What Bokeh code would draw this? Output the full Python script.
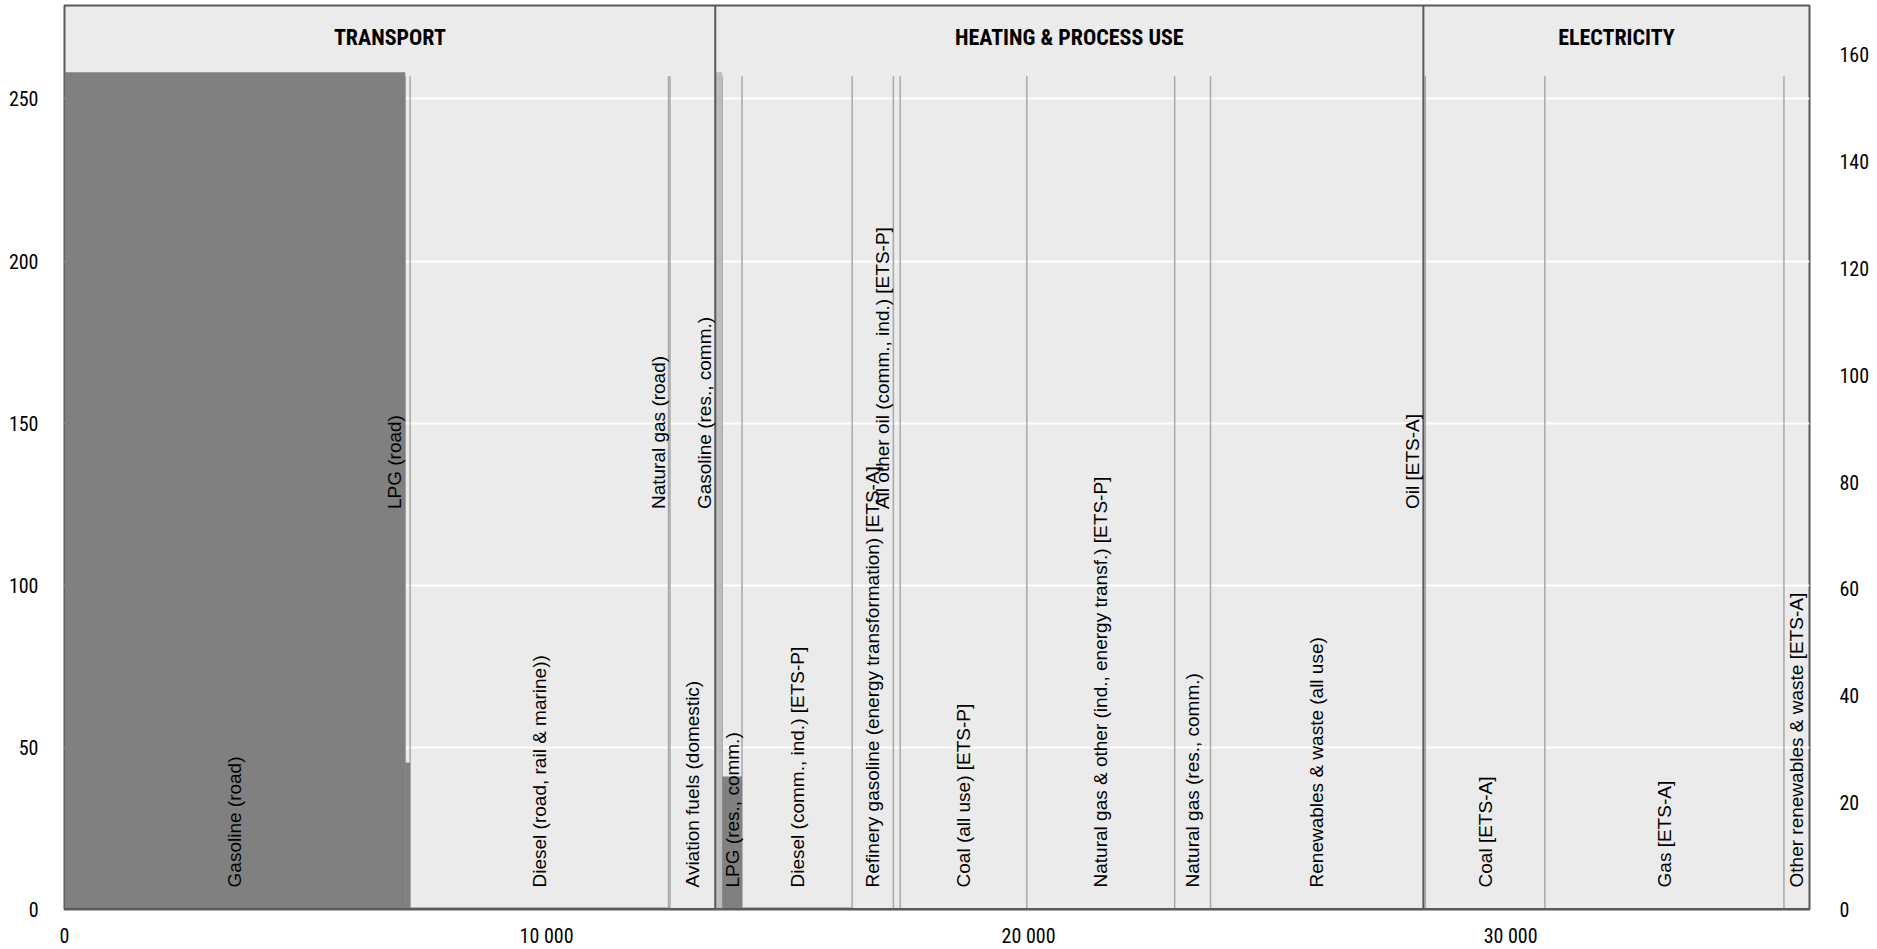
import math

from bokeh.plotting import figure
from bokeh.models import (ColumnDataSource, Range1d, LinearAxis, FixedTicker,
                          Span)
from bokeh.core.properties import value
from bokeh.embed import file_html
from bokeh.resources import INLINE

# ---- data ---------------------------------------------------------------
sectors = ["TRANSPORT", "HEATING & PROCESS USE", "ELECTRICITY"]

categories = [
    "Gasoline (road)",
    "LPG (road)",
    "Diesel (road, rail & marine))",
    "Natural gas (road)",
    "Aviation fuels (domestic)",
    "Gasoline (res., comm.)",
    "LPG (res., comm.)",
    "Diesel (comm., ind.) [ETS-P]",
    "Refinery gasoline  (energy transformation) [ETS-A]",
    "All other oil (comm., ind.) [ETS-P]",
    "Coal (all use) [ETS-P]",
    "Natural gas & other (ind., energy transf.) [ETS-P]",
    "Natural gas (res., comm.)",
    "Renewables & waste (all use)",
    "Oil [ETS-A]",
    "Coal [ETS-A]",
    "Gas [ETS-A]",
    "Other renewables & waste [ETS-A]",
]
category_sector = [0, 0, 0, 0, 0,
                   1, 1, 1, 1, 1, 1, 1, 1, 1,
                   2, 2, 2, 2]
# energy use (bar width)
energy_use = [7068, 102, 5361, 29, 940,
              145, 410, 2285, 855, 141, 2627, 3068, 743, 4416,
              40, 2480, 4960, 530]
# effective tax rate (bar height, left scale)
tax_rate = [258.2, 45.3, 0.6, 0.0, 0.0,
            258.2, 41.0, 0.6, 0.1, 0.0, 0.1, 0.1, 0.1, 0.0,
            0.0, 0.1, 0.1, 0.0]

left_ticks = [0, 50, 100, 150, 200, 250]
right_ticks = [0, 20, 40, 60, 80, 100, 120, 140, 160]
x_ticks = [0, 10000, 20000, 30000]
x_tick_labels = ["0", "10 000", "20 000", "30 000"]

# ---- styling --------------------------------------------------------------
BG = "#EBEBEB"
DARK_BAR = "#808080"
LIGHT_BAR = "#BDBDBD"
SEP = "#A8A8A8"
BORDER = "#595959"
LIGHT_BARS = {"Gasoline (res., comm.)"}
NARROW = 200          # bars narrower than this get their label raised
Y_TOP = 278.8
RIGHT_SCALE = 0.607   # right-hand scale relative to the left one
SEP_TOP = 257.0
LOW_LABEL_Y = 6.8
HIGH_LABEL_Y = 123.5
TITLE_Y = 269.0
AXIS_FONT = "Roboto Condensed, Liberation Sans"
LABEL_FONT = "Liberation Sans"

# ---- derived geometry ----------------------------------------------------
lefts, rights = [], []
pos = 0
for w in energy_use:
    lefts.append(pos)
    pos += w
    rights.append(pos)
x_end = pos

sector_start = {}
sector_end = {}
for s, l, r in zip(category_sector, lefts, rights):
    sector_start.setdefault(s, l)
    sector_end[s] = r

colors = [LIGHT_BAR if c in LIGHT_BARS else DARK_BAR for c in categories]

bars = ColumnDataSource(dict(left=lefts, right=rights, top=tax_rate,
                             bottom=[0] * len(categories), color=colors))

# light separators at every bar edge that is not a sector boundary
sep_x = [l for l, s in zip(lefts, category_sector)
         if l != sector_start[s]]
sector_borders = [sector_start[s] for s in range(1, len(sectors))]

low_lab = dict(x=[], y=[], text=[])
high_lab = dict(x=[], y=[], text=[])
for c, l, r in zip(categories, lefts, rights):
    if r - l < NARROW:
        high_lab["x"].append(l)
        high_lab["y"].append(HIGH_LABEL_Y)
        high_lab["text"].append(c)
    else:
        low_lab["x"].append((l + r) / 2)
        low_lab["y"].append(LOW_LABEL_Y)
        low_lab["text"].append(c)

titles = dict(x=[(sector_start[i] + sector_end[i]) / 2 for i in range(len(sectors))],
              y=[TITLE_Y] * len(sectors), text=sectors)

# ---- figure ------------------------------------------------------------------
p = figure(x_range=Range1d(0, x_end), y_range=Range1d(0, Y_TOP),
           frame_width=1745, frame_height=904,
           min_border_left=64, min_border_right=68,
           min_border_top=5, min_border_bottom=40,
           output_backend="svg", toolbar_location=None,
           background_fill_color=BG, border_fill_color="white",
           outline_line_color=BORDER, outline_line_width=2)

p.extra_y_ranges = {"right": Range1d(0, Y_TOP * RIGHT_SCALE)}

for ax in (p.xaxis[0], p.yaxis[0]):
    ax.axis_line_color = None
    ax.major_tick_line_color = None
    ax.minor_tick_line_color = None
    ax.major_label_text_font = AXIS_FONT
    ax.major_label_text_font_size = "20px"
    ax.major_label_text_color = "black"

p.xaxis.ticker = FixedTicker(ticks=x_ticks)
p.xaxis.major_label_overrides = dict(zip(x_ticks, x_tick_labels))
p.xaxis.major_label_standoff = 8
p.yaxis.ticker = FixedTicker(ticks=left_ticks)
p.yaxis.major_label_standoff = 20

rax = LinearAxis(y_range_name="right", ticker=FixedTicker(ticks=right_ticks))
rax.axis_line_color = None
rax.major_tick_line_color = None
rax.minor_tick_line_color = None
rax.major_label_text_font = AXIS_FONT
rax.major_label_text_font_size = "20px"
rax.major_label_text_color = "black"
rax.major_label_standoff = 24
p.add_layout(rax, "right")

p.xgrid.grid_line_color = None
p.ygrid.ticker = FixedTicker(ticks=left_ticks[1:])
p.ygrid.grid_line_color = "white"
p.ygrid.grid_line_width = 2

# separators between categories
p.segment(x0=sep_x, y0=[0] * len(sep_x), x1=sep_x, y1=[SEP_TOP] * len(sep_x),
          line_color=SEP, line_width=1.5)

# bars
p.quad(left="left", right="right", top="top", bottom="bottom",
       fill_color="color", line_color=None, source=bars)

# sector borders
p.segment(x0=sector_borders, y0=[0] * len(sector_borders),
          x1=sector_borders, y1=[Y_TOP] * len(sector_borders),
          line_color=BORDER, line_width=2)

p.add_layout(Span(location=0, dimension="width", line_color=BORDER,
                  line_width=3))

# category labels
p.text(x="x", y="y", text="text", source=ColumnDataSource(low_lab),
       angle=math.pi / 2, text_align="left", text_baseline="middle",
       text_font=value(LABEL_FONT), text_font_size="19px", text_color="black")
p.text(x="x", y="y", text="text", source=ColumnDataSource(high_lab),
       angle=math.pi / 2, text_align="left", text_baseline="bottom",
       text_font=value(LABEL_FONT), text_font_size="19px", text_color="black")

# sector titles
p.text(x="x", y="y", text="text", source=ColumnDataSource(titles),
       text_align="center", text_baseline="middle",
       text_font=value(AXIS_FONT), text_font_style="bold",
       text_font_size="22px", text_color="black")

open("out.html", "w").write(file_html(p, INLINE))
